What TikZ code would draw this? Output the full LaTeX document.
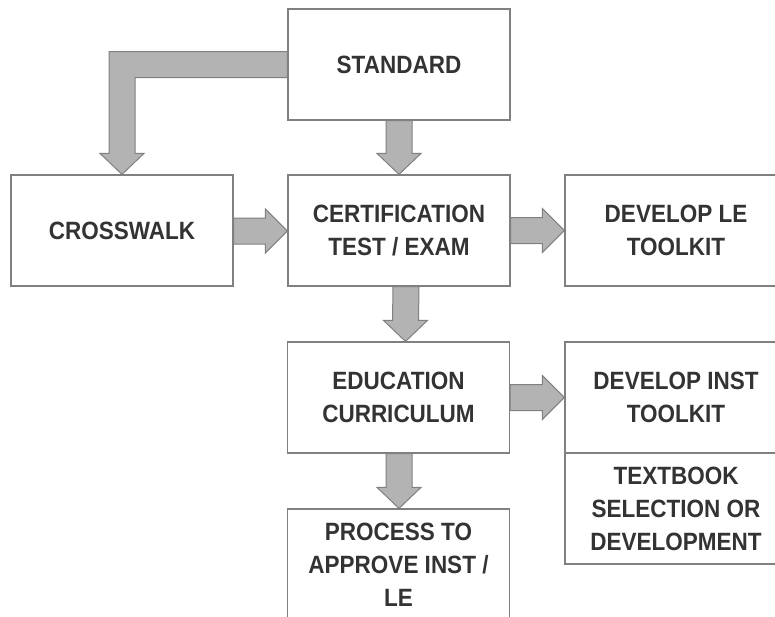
\documentclass[tikz,border=0pt]{standalone}
\usepackage{fontspec}
\setmainfont{Liberation Sans}[FakeStretch=0.9]
\usetikzlibrary{calc,backgrounds}
\definecolor{boxline}{HTML}{808080}
\definecolor{arrowfill}{HTML}{B3B3B3}
\definecolor{txt}{HTML}{333333}
\tikzset{
  box/.style={draw=boxline, line width=1.2pt, fill=white, minimum width=222pt,
    minimum height=111pt, inner sep=0pt, align=center, text=txt,
    font=\fontsize{25}{33}\selectfont\bfseries},
  blk/.style={draw=boxline, line width=1pt, fill=arrowfill, line join=miter}
}
\newcommand\blkdown[3]{%
  \draw[blk] ($(#1.south)+(#3-13,0)$) -- ($(#2.north)+(#3-13,-21)$) -- ++(-9,0)
    -- ($(#2.north)+(#3,0)$) -- ++(22,-21) -- ++(-9,0)
    -- ($(#1.south)+(#3+13,0)$) -- cycle;}
\newcommand\blkright[3]{%
  \draw[blk] ($(#1.east)+(0,#3-13)$) -- ($(#2.west)+(-22,#3-13)$) -- ++(0,-9)
    -- ($(#2.west)+(0,#3)$) -- ++(-22,22) -- ++(0,-9)
    -- ($(#1.east)+(0,#3+13)$) -- cycle;}
\begin{document}
\begin{tikzpicture}[x=1pt,y=-1pt]
\useasboundingbox (0,0) rectangle (775,616);
\clip (0,0) rectangle (775,616);
\node[box] (std) at (399,64.5) {STANDARD};
\node[box] (cw) at (122,230.5) {CROSSWALK};
\node[box] (cert) at (399,230.5) {CERTIFICATION\\TEST / EXAM};
\node[box] (devle) at (676,230.5) {DEVELOP LE\\TOOLKIT};
\node[box] (edu) at (398.5,397.5) {EDUCATION\\CURRICULUM};
\node[box] (devinst) at (676,397.5) {DEVELOP INST\\TOOLKIT};
\node[box] (tb) at (676,508.5) {TEXTBOOK\\SELECTION OR\\DEVELOPMENT};
\node[box] (proc) at (398.5,564.5) {PROCESS TO\\APPROVE INST /\\LE};
\begin{scope}[on background layer]
\draw[blk] ($(std.west)+(0,-13)$) -| ($(cw.north)+(-13,-21)$) -- ++(-9,0)
  -- (cw.north) -- ++(22,-21) -- ++(-9,0) |- ($(std.west)+(0,13)$) -- cycle;
\blkdown{std}{cert}{0}
\blkdown{cert}{edu}{7}
\blkdown{edu}{proc}{0.5}
\blkright{cw}{cert}{0.5}
\blkright{cert}{devle}{0}
\blkright{edu}{devinst}{0}
\end{scope}
\end{tikzpicture}
\end{document}
